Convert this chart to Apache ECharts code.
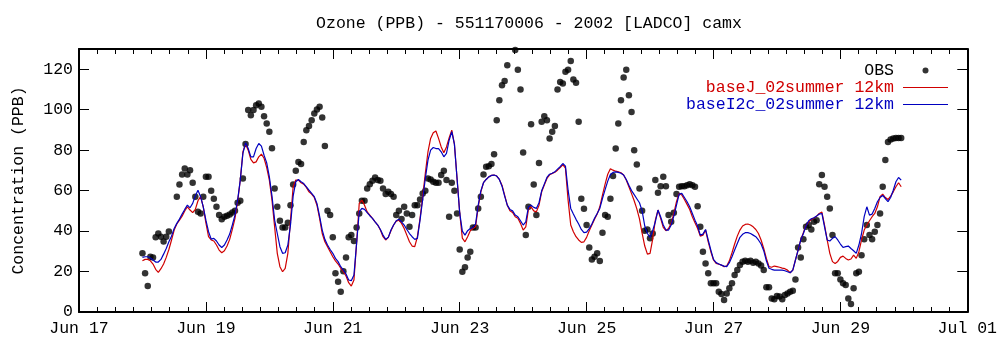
<!DOCTYPE html>
<html>
<head>
<meta charset="utf-8">
<script src="https://cdn.jsdelivr.net/npm/echarts@6/dist/echarts.min.js"></script>
<style>
html,body{margin:0;padding:0;background:#fff;}
#chart{width:1000px;height:347px;}
</style>
</head>
<body>
<div id="chart"></div>
<script>
// Hours since Jun 17 00:00 of the first hourly value
const START_HOUR = 24;
const xTickLabels = ['Jun 17','Jun 19','Jun 21','Jun 23','Jun 25','Jun 27','Jun 29','Jul 01'];
const seriesNames = ['OBS', 'baseJ_02summer 12km', 'baseI2c_02summer 12km'];

// Observed ozone (PPB), hourly from Jun 18 00:00
const obs = [
29.0,19.1,12.8,27.3,27.0,36.9,38.8,37.2,34.9,37.2,39.8,null,null,
57.0,63.0,68.0,70.9,68.0,70.1,63.9,57.0,49.5,48.7,57.0,66.8,66.8,59.9,56.0,52.0,47.9,45.9,47.1,47.6,48.2,49.2,50.0,54.0,55.0,66.0,83.0,99.8,97.3,99.8,102.2,103.0,101.4,96.8,
93.2,89.1,81.0,61.1,52.0,45.1,41.8,41.8,44.1,52.8,63.0,69.8,74.1,73.1,84.0,89.9,91.9,94.8,98.1,100.1,101.4,96.1,82.0,50.0,47.9,36.9,19.1,15.0,10.0,20.2,27.0,36.9,38.0,35.1,41.8,48.7,55.0,55.0,61.1,63.2,64.9,66.5,65.2,64.9,61.1,58.3,59.4,
58.3,57.0,47.9,50.0,46.0,52.0,48.7,42.1,47.9,52.8,52.8,55.6,58.6,59.9,66.0,65.5,64.4,63.9,63.9,67.7,69.8,65.2,47.1,63.9,59.9,48.7,30.9,19.9,22.1,27.0,29.8,41.8,41.8,51.2,57.0,68.0,71.8,72.1,73.1,78.0,94.8,104.7,112.1,114.2,122.0,
null,null,
129.5,119.8,110.0,78.8,38.0,52.0,92.8,63.0,47.9,73.7,94.0,96.8,94.8,85.8,89.1,91.9,110.0,113.7,112.9,118.7,119.8,124.1,114.9,113.3,94.0,56.0,51.0,43.0,31.9,26.0,27.3,29.0,25.2,39.2,47.9,47.1,56.0,67.2,80.8,93.2,104.7,115.9,119.8,107.2,98.9,80.0,72.9,
61.1,50.0,40.2,40.8,36.4,38.8,65.2,58.9,62.2,66.8,62.2,47.9,44.6,49.1,58.3,61.9,62.2,62.2,62.7,63.2,62.7,61.9,52.3,42.1,29.8,24.0,19.1,14.2,14.2,14.2,10.0,8.9,5.9,9.2,11.7,14.2,18.3,20.7,23.2,24.9,25.3,24.9,25.3,24.4,24.9,
24.0,23.0,20.7,12.2,12.2,6.7,6.3,7.9,7.6,6.3,8.4,9.2,10.0,10.5,16.1,31.9,27.0,35.9,42.1,43.0,40.8,44.6,45.4,63.2,67.7,61.9,57.0,51.2,38.0,19.1,19.1,16.1,14.2,13.3,6.7,4.0,11.7,19.1,19.9,28.1,35.9,43.0,38.0,35.9,39.7,43.0,48.7,61.9,75.1,84.0,85.3,85.8,86.0,86.0,86.0
];

// baseJ_02summer 12km model, hourly from Jun 18 00:00
const baseJ = [
25.3,26.0,26.0,25.3,23.7,21.1,19.6,21.4,23.7,27.0,30.9,35.6,40.5,43.5,45.4,47.4,49.9,52.0,50.4,49.1,50.7,55.0,57.0,52.0,44.1,37.2,35.6,35.1,33.1,30.6,29.3,30.3,32.6,35.9,40.8,46.3,54.5,65.2,79.2,83.0,80.0,75.4,73.7,74.2,76.7,78.0,76.0,
71.4,65.2,55.3,42.1,29.0,22.4,19.9,21.6,29.0,45.4,61.9,65.2,65.2,63.9,63.2,61.6,59.4,58.3,56.6,52.8,46.3,38.8,34.7,32.3,29.8,27.3,25.3,23.7,21.6,19.9,17.8,14.5,12.8,15.8,33.9,53.7,55.3,52.8,49.5,47.9,46.3,44.6,43.0,40.5,37.2,35.6,36.9,
40.2,43.0,44.9,45.4,43.8,41.3,38.0,34.7,32.6,32.3,37.2,46.3,57.0,68.5,79.2,85.8,88.6,89.5,85.8,81.6,78.7,81.6,86.0,89.9,83.0,66.0,49.0,36.5,34.7,37.2,40.2,41.3,42.1,52.0,59.4,63.9,65.5,66.8,67.5,67.7,67.2,65.5,62.7,57.8,52.8,50.0,49.2,
47.1,46.3,43.8,40.5,42.1,50.7,52.0,50.0,49.5,52.8,59.4,62.7,66.0,67.8,68.5,69.1,70.1,71.4,72.8,71.1,55.3,43.0,39.7,37.2,35.6,34.4,34.7,36.9,40.2,43.0,45.8,48.4,52.0,57.8,63.2,68.1,70.8,70.1,69.6,69.3,68.8,67.7,65.2,61.9,58.5,55.0,51.0,
46.0,39.0,32.6,28.6,29.0,36.0,45.4,50.4,46.3,41.8,40.2,41.3,43.8,48.7,54.5,58.6,57.8,55.6,53.2,50.7,47.1,44.1,41.3,37.5,38.0,40.5,34.7,29.8,25.7,24.0,23.7,23.2,22.4,22.7,25.3,29.3,33.6,37.5,40.5,42.5,43.3,43.5,43.0,42.1,40.8,38.8,35.6,
31.4,26.5,22.4,22.1,22.7,22.4,22.1,21.7,21.4,20.7,19.4,20.7,25.7,30.6,35.6,39.2,42.8,44.4,45.8,46.4,47.4,48.7,49.4,43.0,35.6,29.0,24.9,24.0,25.0,27.0,27.6,26.5,25.7,26.2,28.1,26.5,29.8,35.6,40.5,43.0,45.1,47.1,48.7,52.0,57.0,58.3,56.6,55.6,57.3,59.4,61.9,63.9,61.9
];

// baseI2c_02summer 12km model, hourly from Jun 18 00:00
const baseI2c = [
27.0,27.3,27.3,26.7,25.7,24.7,24.7,26.0,28.6,31.4,34.7,37.5,41.3,43.8,45.9,48.4,50.7,52.8,51.5,53.7,57.3,60.2,57.0,52.0,45.4,39.7,36.0,36.4,35.1,33.1,31.9,33.1,35.6,38.5,43.0,47.9,55.3,65.2,78.4,83.6,80.8,76.7,76.7,80.8,83.3,82.0,77.5,
73.7,66.8,57.3,45.4,38.8,32.3,29.0,29.3,33.1,43.0,57.3,64.4,65.5,64.4,63.5,61.9,60.2,58.6,57.0,53.7,47.4,40.5,35.9,33.1,30.9,29.0,26.5,24.9,22.4,20.7,18.8,15.8,15.5,18.3,33.9,49.5,51.2,50.7,49.1,47.6,46.3,44.6,43.0,40.8,38.0,35.9,36.9,
40.5,43.0,45.1,45.8,44.6,43.0,40.8,38.8,37.2,35.9,36.4,45.4,55.6,66.0,75.1,80.0,81.3,80.8,80.8,79.2,76.7,78.4,84.9,89.1,83.0,66.0,49.0,40.0,38.0,40.2,41.3,41.8,43.5,52.8,59.9,63.9,65.5,66.8,67.5,67.7,67.2,65.5,62.2,57.3,52.8,50.7,50.0,
47.9,47.1,45.1,43.0,44.6,52.0,52.8,51.7,51.2,54.0,59.9,63.2,66.5,68.1,68.6,69.3,70.6,71.8,73.4,72.1,60.2,51.2,48.4,45.8,43.5,40.8,39.2,39.5,41.2,43.5,46.3,48.7,51.2,56.1,60.5,64.7,68.0,69.0,69.3,69.0,68.6,67.7,65.5,62.7,60.0,58.0,56.0,
54.0,50.0,42.5,38.8,36.9,40.2,44.6,50.4,47.1,43.0,40.5,40.5,43.0,47.4,52.8,58.3,58.6,56.6,54.5,52.0,48.7,45.4,42.5,38.0,38.5,40.8,35.6,30.6,26.0,24.4,23.7,23.2,22.7,22.4,24.4,27.3,30.6,33.9,36.9,38.4,39.2,39.2,38.8,38.0,37.2,35.6,33.6,
30.3,25.3,21.6,21.1,20.7,20.7,20.7,20.7,20.4,19.9,19.4,20.7,25.7,30.6,35.6,38.8,42.5,45.1,46.1,46.6,47.4,48.4,48.7,42.1,35.6,35.1,36.4,37.2,35.6,33.6,31.9,32.3,32.6,31.4,30.3,29.0,33.1,38.8,47.1,52.0,47.9,48.4,51.2,54.5,56.6,57.6,56.1,54.5,56.6,60.2,64.4,66.5,65.2
];

const FONT = 'Liberation Mono';
const LINE_ICON = 'path://M0,0H45V1.2H0Z';
const toPairs = arr => arr.map((v, i) => [START_HOUR + i, v]).filter(p => p[1] !== null);

const chart = echarts.init(document.getElementById('chart'), null, {renderer: 'canvas'});

const xCommon = {
  type: 'value', min: 0, max: 336, interval: 48,
  axisLine: {show: true, onZero: false, lineStyle: {color: '#000', width: 2}},
  axisTick: {show: true, inside: true, length: 10, lineStyle: {color: '#000', width: 1}},
  minorTick: {show: true, splitNumber: 7, length: 5, lineStyle: {color: '#000', width: 1}},
  splitLine: {show: false}
};
const yCommon = {
  type: 'value', min: 0, max: 130, interval: 20,
  axisLine: {show: true, onZero: false, lineStyle: {color: '#000', width: 2}},
  axisTick: {show: true, inside: true, length: 10, lineStyle: {color: '#000', width: 1}},
  splitLine: {show: false}
};

chart.setOption({
  animation: false,
  backgroundColor: '#fff',
  title: {
    text: 'Ozone (PPB) - 551170006 - 2002 [LADCO] camx',
    left: 524, top: 10, textAlign: 'center',
    textStyle: {fontFamily: FONT, fontSize: 16.5, fontWeight: 'normal', color: '#000'}
  },
  grid: {left: 79, right: 30, top: 49, bottom: 35, containLabel: false},
  legend: {
    orient: 'vertical', right: 47, top: 57, align: 'right',
    itemWidth: 45, itemHeight: 6, itemGap: 0, selectedMode: false,
    textStyle: {fontFamily: FONT, fontSize: 16.5, padding: [0, 4, 0, 0]},
    data: [
      {name: seriesNames[0], icon: 'circle', itemStyle: {color: '#000'}, textStyle: {color: '#000'}},
      {name: seriesNames[1], icon: LINE_ICON, itemStyle: {color: '#d00000'}, textStyle: {color: '#d00000'}},
      {name: seriesNames[2], icon: LINE_ICON, itemStyle: {color: '#0000c0'}, textStyle: {color: '#0000c0'}}
    ]
  },
  xAxis: [
    Object.assign({}, xCommon, {
      position: 'bottom',
      axisLabel: {show: true, margin: 8, color: '#000', fontFamily: FONT, fontSize: 16.5,
        formatter: v => xTickLabels[Math.round(v / 48)] || ''}
    }),
    Object.assign({}, xCommon, {position: 'top', axisLabel: {show: false}})
  ],
  yAxis: [
    Object.assign({}, yCommon, {
      position: 'left',
      name: 'Concentration (PPB)', nameLocation: 'middle', nameGap: 52,
      nameTextStyle: {fontFamily: FONT, fontSize: 16.5, color: '#000'},
      axisLabel: {show: true, margin: 6, color: '#000', fontFamily: FONT, fontSize: 16.5, showMaxLabel: false,
        formatter: v => (v <= 120 ? String(v) : '')}
    }),
    Object.assign({}, yCommon, {position: 'right', axisLabel: {show: false}})
  ],
  series: [
    {
      name: seriesNames[0], type: 'scatter', xAxisIndex: 0, yAxisIndex: 0,
      symbol: 'circle', symbolSize: 6.5,
      itemStyle: {color: '#000'},
      data: toPairs(obs)
    },
    {
      name: seriesNames[1], type: 'line', xAxisIndex: 0, yAxisIndex: 0,
      symbol: 'none', showSymbol: false,
      lineStyle: {color: '#d00000', width: 1.2},
      itemStyle: {color: '#d00000'},
      data: toPairs(baseJ)
    },
    {
      name: seriesNames[2], type: 'line', xAxisIndex: 0, yAxisIndex: 0,
      symbol: 'none', showSymbol: false,
      lineStyle: {color: '#0000c0', width: 1.2},
      itemStyle: {color: '#0000c0'},
      data: toPairs(baseI2c)
    }
  ]
});
</script>
</body>
</html>
